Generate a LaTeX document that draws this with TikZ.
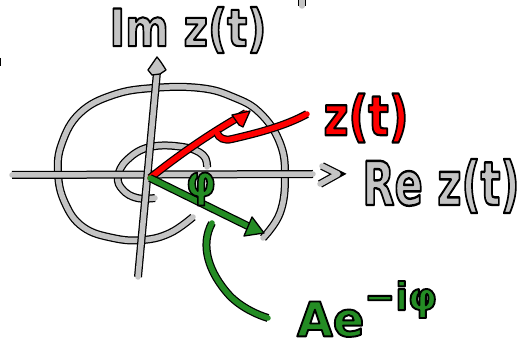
\documentclass[tikz,border=0pt]{standalone}
\usepackage{fontspec}
\setmainfont{DejaVu Sans}
\usepackage{graphicx}
\definecolor{sgray}{RGB}{196,196,196}
\definecolor{sred}{RGB}{255,0,0}
\definecolor{sgreen}{RGB}{36,140,36}
\newcommand{\outl}[1]{\special{pdf:literal 2 Tr 0.4 w 1 j 0 0 0 RG}#1\special{pdf:literal 0 Tr}}
\begin{document}
\begin{tikzpicture}[x=1pt,y=-1pt,
  pen/.style={line cap=round,line join=round,line width=5.5pt,preaction={draw=black,line width=8pt}},
  gpen/.style={pen,draw=sgray},
  rpen/.style={pen,draw=sred},
  grpen/.style={pen,draw=sgreen},
  headblob/.style={line join=round,line cap=round,line width=1.3pt,draw=black},
  lbl/.style={inner sep=0pt,font=\bfseries}]
\useasboundingbox (0,0) rectangle (522,347);
\fill[white] (0,0) rectangle (522,347);
% stray marks at the edges
\draw[gpen] (302,0) -- (302,6);
\draw[line width=2.5pt,black] (0,58) -- (0,66);
% spiral
\draw[gpen] plot[smooth,tension=0.7] coordinates {(207,167) (203,155) (183,147) (150,147) (127,160) (118,177) (123,190) (137,198) (155,198)};
\draw[gpen] plot[smooth,tension=0.7] coordinates {(193,217) (170,233) (143,240) (113,238) (83,227) (65,203) (58,173) (62,143) (80,113) (113,95) (153,88) (200,88) (233,97) (260,113) (280,143) (285,177) (280,213) (263,238)};
% axes
\coordinate (xs) at (12,175);
\coordinate (xe) at (313,174);
\draw[gpen] (xs) -- (xe);
\draw[gpen] (322,166) -- (338,174) -- (320,184);
\coordinate (ys) at (138,277);
\coordinate (ye) at (157,72);
\draw[gpen] (ys) -- (ye);
\filldraw[headblob,fill=sgray] (157,57) .. controls (161,62) .. (166,70) -- (160,74) -- (152,75) -- (148,70) .. controls (152,63) .. cycle;
% red vector z(t)
\coordinate (o) at (150,178);
\coordinate (rt) at (246,113);
\draw[rpen] (o) .. controls (180,154) and (212,132) .. (rt);
\filldraw[headblob,fill=sred] (250,111) -- (243,127) -- (239,125) -- (232,115) -- cycle;
% green vector
\coordinate (gt) at (258,231);
\draw[grpen] (o) -- (gt);
\filldraw[headblob,fill=sgreen] (264,233) -- (252,217) -- (244,236) -- cycle;
% labels
\node[lbl,text=sgray] (im) at (188,30) {\resizebox*{157pt}{46pt}{\outl{Im z(t)}}};
\node[lbl,text=sgray] (re) at (441,186) {\resizebox*{157pt}{54pt}{\outl{Re z(t)}}};
\node[lbl,text=sred] (zt) at (366,118) {\resizebox*{85pt}{49pt}{\outl{z(t)}}};
\node[lbl,text=sgreen] (ae) at (367,309) {\resizebox*{140pt}{56pt}{\outl{Ae\raisebox{0.55em}{\footnotesize −iφ}}}};
\node[lbl,text=sgreen] (phi) at (201,189) {\resizebox*{30pt}{33pt}{\outl{φ}}};
% connectors from labels
\draw[rpen] (307,114) .. controls (285,126) and (258,133) .. (232,139) .. controls (224,141) and (219,138) .. (217,133);
\draw[grpen] (212,223) .. controls (200,245) and (208,272) .. (230,296) .. controls (242,308) and (258,315) .. (268,318);
\end{tikzpicture}
\end{document}
